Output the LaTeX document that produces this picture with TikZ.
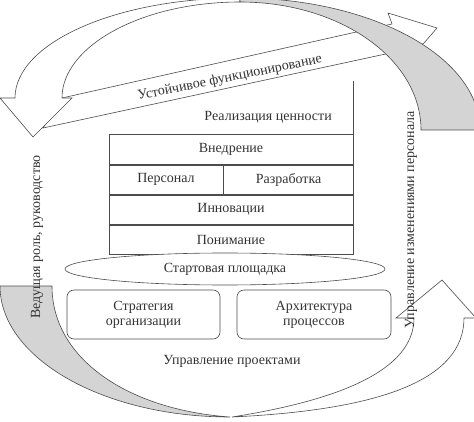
\documentclass[tikz,border=0pt]{standalone}
\usepackage{fontspec}
\setmainfont{Liberation Serif}
\usepackage{tikz}
\usetikzlibrary{shapes.geometric, positioning}
\tikzset{font=\fontsize{14}{15}\selectfont}
\tikzset{ln/.style={draw=black!70, line width=0.6pt}}
\tikzset{band/.style={ln, fill=white}}
\tikzset{grayband/.style={ln, fill=black!17}}
\tikzset{cell/.style={ln, rectangle, inner sep=0pt, minimum height=29.5pt, text=black!80}}
\tikzset{rbox/.style={ln, rectangle, rounded corners=7pt, minimum width=153pt,
    minimum height=49pt, align=center, text=black!80}}
\tikzset{lbl/.style={text=black!80, inner sep=0pt}}

\begin{document}
\begin{tikzpicture}[x=1pt, y=-1pt]
  \useasboundingbox (0,0) rectangle (474,422);
  \clip (0,0) rectangle (474,422);
  % straight band with its tail
  \draw[band] (62,98) -- (392,24) -- (388,13) -- (437,28) -- (424,43) -- (418,47) -- (43,128) -- cycle;
  % top arrow, white
  \draw[band] (240,-2) .. controls (116,-2) and (15,43) .. (15,98) -- (0,98) -- (33,137)
    -- (72,98) -- (62,98) .. controls (62,46) and (142,2) .. (240,2) -- cycle;
  % right band, gray
  \draw[grayband] (240,-2) .. controls (372,-2) and (480,57) .. (480,130) -- (421,130)
    .. controls (421,59) and (340,2) .. (240,2) -- cycle;
  % left band, gray
  \draw[grayband] (0,286) .. controls (0,358) and (103,417) .. (230,417)
    .. controls (130,410) and (52,360) .. (52,286) -- cycle;
  % bottom arrow, white
  \draw[band] (232,417) .. controls (380,410) and (464,380) .. (464,318) -- (476,318) -- (442,280)
    -- (396,318) -- (414,318) .. controls (414,370) and (340,400) .. (232,417) -- cycle;

  \node[cell, minimum width=244pt] (vnedr) at (231,149.5) {Внедрение};
  \node[cell, minimum width=114pt, anchor=north west] (pers) at (vnedr.south west) {Персонал};
  \node[cell, minimum width=130pt, anchor=north west] (razr) at (pers.north east) {Разработка};
  \node[cell, minimum width=244pt, anchor=north west] (innov) at (pers.south west) {Инновации};
  \node[cell, minimum width=244pt, anchor=north west] (ponim) at (innov.south west) {Понимание};
  \draw[ln] (vnedr.north east) -- ++(0,-53);
  \node[lbl, anchor=east] (real) at (332,117) {Реализация ценности};

  \node[ln, ellipse, fill=white, minimum width=320pt, minimum height=32pt, inner sep=0pt,
    text=black!80] (start) at (225,269) {Стартовая площадка};
  \node[rbox] (strat) at (143.5,314.5) {Стратегия\\организации};
  \node[rbox, minimum width=154pt] (arch) at (314,314.5) {Архитектура\\процессов};
  \node[lbl] (proj) at (232,361) {Управление проектами};

  \node[lbl, rotate=90] (lead) at (37,237) {Ведущая роль, руководство};
  \node[lbl, rotate=90] (pchg) at (411,220) {Управление изменениями персонала};
  \node[lbl, rotate=11.5] (sust) at (230,78) {Устойчивое функционирование};
\end{tikzpicture}
\end{document}
